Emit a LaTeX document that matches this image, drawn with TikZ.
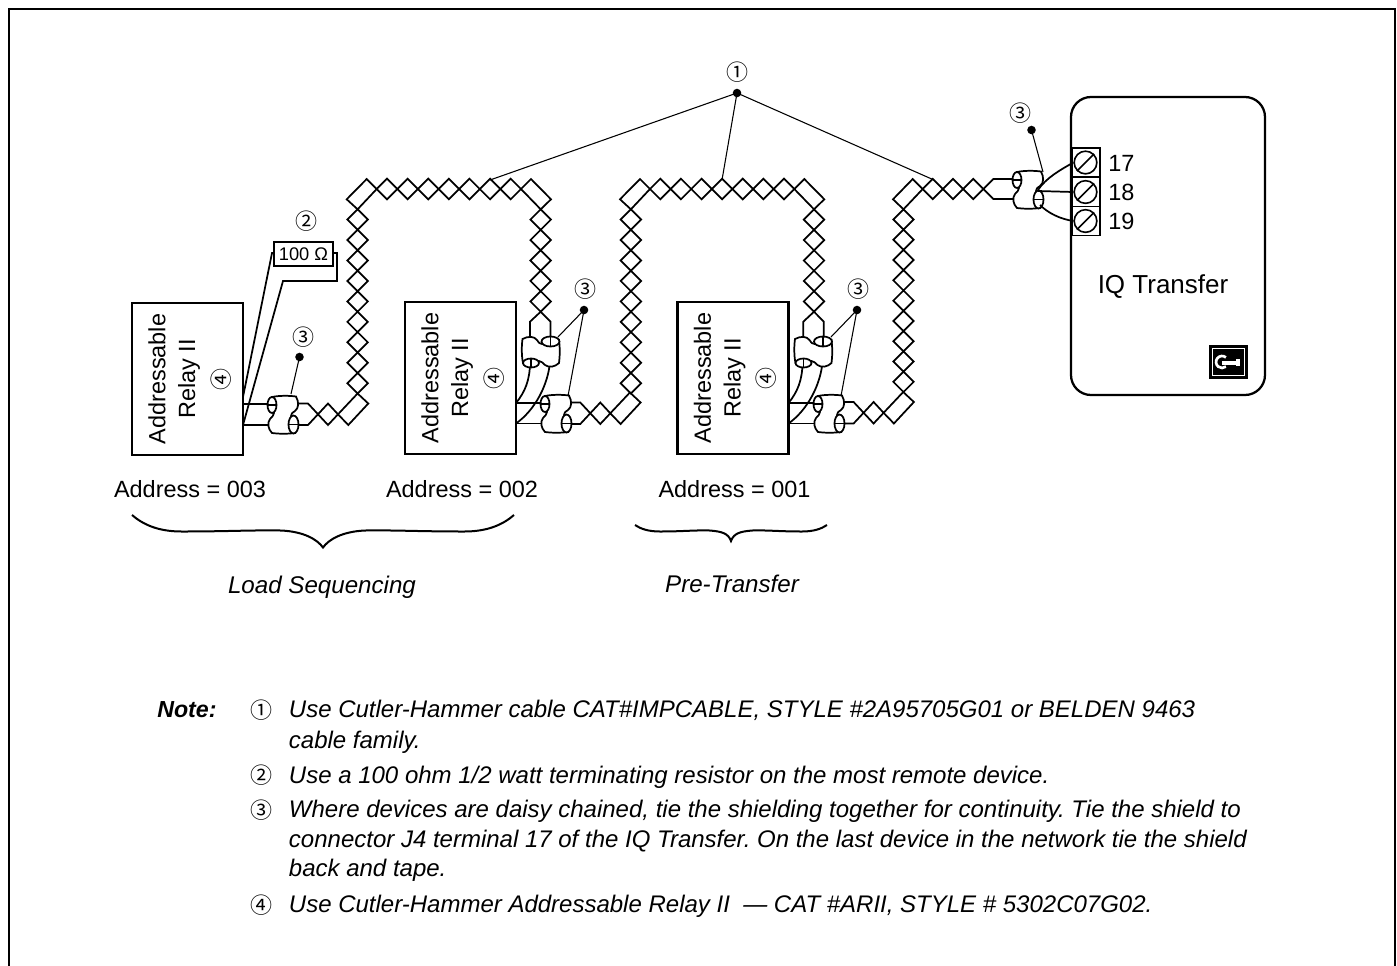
\documentclass[tikz,border=0pt]{standalone}
\usepackage{fontspec}
\setmainfont{Liberation Sans}
\newfontfamily\symfont{Noto Sans CJK SC}
\frenchspacing
\tikzset{
  wire/.style={line width=1.3pt,line join=miter},
  boxline/.style={line width=1.7pt},
  leader/.style={line width=0.8pt},
  thin box/.style={line width=1.2pt},
  lbl/.style={inner sep=0pt,font=\fontsize{17.6}{20}\selectfont},
  ilbl/.style={inner sep=0pt,font=\fontsize{18.1}{20}\selectfont\itshape},
  cir/.style={inner sep=0pt,font=\fontsize{16.5}{18}\selectfont\symfont},
  note/.style={inner sep=0pt,anchor=base west,font=\fontsize{18}{20}\selectfont\itshape},
  notehead/.style={inner sep=0pt,anchor=base west,font=\fontsize{17.4}{20}\selectfont\bfseries\itshape},
  dot/.style={circle,fill=black,inner sep=0pt,minimum size=6.4pt},
}
% chain of n diamonds between two crossings
\newcommand{\dchain}[5]{%
  \foreach \i in {1,...,#5}{%
    \pgfmathsetmacro{\dx}{(#3-#1)/#5}%
    \pgfmathsetmacro{\dy}{(#4-#2)/#5}%
    \pgfmathsetmacro{\ax}{#1+(\i-1)*\dx}%
    \pgfmathsetmacro{\ay}{#2+(\i-1)*\dy}%
    \draw[wire] (\ax,\ay) -- ({\ax+\dx/2+\dy/2},{\ay+\dy/2+\dx/2}) -- ({\ax+\dx},{\ay+\dy}) -- ({\ax+\dx/2-\dy/2},{\ay+\dy/2-\dx/2}) -- cycle;
  }%
}
\newcommand{\cablerun}[1]{%
  \begin{scope}[shift={(#1,0)}]
    \dchain{376.7}{189}{521}{189}{7}
    \dchain{357.6}{209.3}{357.6}{393.5}{9}
    \draw[wire] (357.6,209.3) -- (346.7,199.3) -- (366.7,179) -- (376.7,189) -- cycle;
    \draw[wire] (521,189) -- (531,179) -- (551,199.3) -- (540.7,209.3) -- cycle;
  \end{scope}
}
\newcommand{\lowerrun}[2]{%
  \begin{scope}[shift={(#1,#2)}]
    \draw[wire] (297,403.5) -- (308,403.5) -- (328,425) -- (338,414.3) -- (348.3,425) -- (368.3,403.5) -- (357.6,393.5) -- (338,414.3) -- (328,403.5) -- (308,425) -- (297,425);
  \end{scope}
}
\newcommand{\upperrun}[1]{%
  \begin{scope}[shift={(#1,0)}]
    \dchain{540.7}{209.3}{540.7}{311.7}{5}
    \draw[wire] (530,338) -- (530,321.7) -- (540.7,311.7) -- (550.5,321.7) -- (550.5,338);
  \end{scope}
}
\newcommand{\shieldbody}{%
  \draw[wire,fill=white] (-11,-17) .. controls (-4,-18.5) and (6,-18.5) .. (13,-17.5)
     .. controls (16,-12) and (16,-6) .. (12,-3) .. controls (9,-1) and (8,0) .. (8,2)
     -- (12,19) .. controls (4,20) and (-4,20) .. (-11,19)
     .. controls (-15,15) and (-16,9) .. (-13,5) .. controls (-11,3) and (-9,1) .. (-9,-1)
     -- cycle;
  \draw[wire,fill=white] (-11,-9) circle[x radius=4.5,y radius=8];
  \draw[wire,fill=white] (10.5,10.5) circle[x radius=5,y radius=9];
  \draw[wire] (-15.5,-9) -- (-6.5,-9);
  \draw[wire] (5.5,10.5) -- (15.5,10.5);
}
\newcommand{\hshield}[2]{%
  \begin{scope}[shift={(#1,#2)}]
    \shieldbody
  \end{scope}
}
\newcommand{\vshield}[2]{%
  \begin{scope}[shift={(#1,#2)},x={(0pt,0.75pt)},y={(0.75pt,0pt)}]
    \shieldbody
  \end{scope}
}
\newcommand{\relaybox}[4]{%
  \draw[boxline] (#1,#2) rectangle ({#1+111},{#2+152});
  \node[lbl,rotate=90] at ({#1+25},{#2+76}) {Addressable};
  \node[lbl,rotate=90] at ({#1+57},{#2+76}) {Relay II};
  \node[cir,rotate=90] at ({#1+89},{#2+76}) {\char"2463};
  \node[lbl] at (#4,489) {#3};
}
\newcommand{\bracepath}[5]{% xl xr ytop ymid ytip
  \pgfmathsetmacro{\xm}{(#1+#2)/2}%
  \pgfmathsetmacro{\w}{(#2-#1)/2}%
  \draw[line width=1.5pt] (#1,#3)
    .. controls ({#1+0.06*\w},{#3+0.6*(#4-#3)}) and ({#1+0.14*\w},#4) .. ({#1+0.26*\w},#4)
    .. controls ({#1+0.5*\w},#4) and ({#1+0.62*\w},{#4-1.5}) .. ({#1+0.78*\w},{#4-1})
    .. controls ({\xm-0.1*\w},#4) and ({\xm-0.03*\w},{#5-8}) .. (\xm,#5)
    .. controls ({\xm+0.03*\w},{#5-8}) and ({\xm+0.1*\w},#4) .. ({#2-0.78*\w},{#4-1})
    .. controls ({#2-0.62*\w},{#4-1.5}) and ({#2-0.5*\w},#4) .. ({#2-0.26*\w},#4)
    .. controls ({#2-0.14*\w},#4) and ({#2-0.06*\w},{#3+0.6*(#4-#3)}) .. (#2,#3);
}
\begin{document}
\begin{tikzpicture}[x=0.75pt,y=-0.75pt]
\useasboundingbox (0,0) rectangle (1397,965);
% frame
\draw[line width=1.5pt] (8.5,970) -- (8.5,8.5) -- (1395,8.5) -- (1395,970);

% relays
\relaybox{132}{303}{Address = 003}{190}
\relaybox{405}{302}{Address = 002}{462}
\relaybox{677.5}{302}{Address = 001}{734.5}

% cables
\cablerun{0}
\cablerun{273.3}
\upperrun{0}
\upperrun{273.3}
\dchain{903.5}{209.3}{903.5}{392}{9}
\draw[wire] (903.5,209.3) -- (893,199.3) -- (912.7,179) -- (922.7,189) -- cycle;
\dchain{922.7}{189}{983.3}{189}{3}
\draw[wire] (1015,179) -- (993.3,179) -- (983.3,189) -- (993.3,199) -- (1015,199);
\lowerrun{0}{0}
\lowerrun{272.3}{-1}
\lowerrun{545.6}{-1.5}

% relay 003 wiring
\coordinate (r3a) at (243,404);
\coordinate (r3b) at (243,425);
\draw[wire] (r3a) -- (272,404);
\draw[wire] (r3b) -- (270,425);
\hshield{283}{414}
% terminating resistor
\node[draw,thin box,minimum width=44pt,minimum height=18pt,inner sep=0pt,font=\fontsize{13.7}{16}\selectfont] (res) at (303.5,254) {100 Ω};
\coordinate (res-l) at (272,253);
\coordinate (res-r) at (337,253);
\draw[wire] (243,397) -- (res-l) -- (res.west |- res-l);
\draw[wire] (r3b) -- (283,281) -- (337,281) -- (res-r) -- (res.east |- res-r);

% relay 002 wiring
\coordinate (r2a) at (516,403);
\coordinate (r2b) at (516,423.5);
\draw[wire] (r2a) .. controls (525,392) and (530,380) .. (530,362);
\draw[wire] (r2b) .. controls (535,410) and (548,385) .. (550,362);
\draw[wire] (r2a) -- (548,403);
\draw[wire] (r2b) -- (545,423.5);
\vshield{540}{352}
\hshield{556}{413}

% relay 001 wiring
\coordinate (r1a) at (788.5,403);
\coordinate (r1b) at (788.5,423.5);
\draw[wire] (r1a) .. controls (797.5,392) and (802.5,380) .. (802.5,362);
\draw[wire] (r1b) .. controls (807.5,410) and (820.5,385) .. (822.5,362);
\draw[wire] (r1a) -- (820.5,403);
\draw[wire] (r1b) -- (817.5,423.5);
\vshield{812.5}{352}
\hshield{829}{413}

% IQ Transfer
\draw[boxline,rounded corners=15pt] (1071,97) rectangle (1265,395);
\node[lbl,font=\fontsize{19.5}{22}\selectfont] at (1163,287) {IQ Transfer};
\foreach \n/\y/\l in {a/148/17,b/177.5/18,c/206.5/19}{
  \draw[thin box,fill=white] (1072,\y) rectangle (1100,{\y+29});
  \node[draw,circle,thin box,minimum size=17pt,inner sep=0pt] (t\n) at (1085.5,{\y+14.5}) {};
  \draw[wire] (t\n.south west) -- (t\n.north east);
  \node[lbl,anchor=west] at (1108,{\y+15}) {\l};
}
% last shield
\hshield{1028}{189}
\draw[wire] (1038,190) .. controls (1046,178) and (1060,170) .. (ta.west);
\draw[wire] (1038,191) -- (tb.west);
\draw[wire] (1040,205) .. controls (1048,213) and (1060,219) .. (tc.west);

% key icon
\fill[black] (1209,345) rectangle (1248,379);
\draw[white,line width=1pt] (1212.5,348.5) rectangle (1244.5,375.5);
\draw[white,line width=2pt] (1225.9,357.4) arc[start angle=-50,end angle=-310,radius=6];
\fill[white] (1222,360.5) rectangle (1236,364.5);
\fill[white] (1236,359) rectangle (1240,366);

% leaders
\node[cir] (n1) at (737,72) {\char"2460};
\node[dot] (d1) at (737,93) {};
\coordinate (l1a) at (490,180);
\coordinate (l1b) at (722,180);
\coordinate (l1c) at (934,180);
\draw[leader] (d1.center) -- (l1a);
\draw[leader] (d1.center) -- (l1b);
\draw[leader] (d1.center) -- (l1c);

\node[cir] (n2) at (306,221.5) {\char"2461};

\node[cir] (n3a) at (303,337.5) {\char"2462};
\node[dot] (d3a) at (299.5,357) {};
\coordinate (l3a) at (291,394);
\draw[leader] (d3a.center) -- (l3a);

\node[cir] (n3b) at (585,289.5) {\char"2462};
\node[dot] (d3b) at (584,310) {};
\coordinate (l3b1) at (558,337);
\coordinate (l3b2) at (568,396);
\draw[leader] (d3b.center) -- (l3b1);
\draw[leader] (d3b.center) -- (l3b2);

\node[cir] (n3c) at (858,289.5) {\char"2462};
\node[dot] (d3c) at (857,310) {};
\coordinate (l3c1) at (831,337);
\coordinate (l3c2) at (841,396);
\draw[leader] (d3c.center) -- (l3c1);
\draw[leader] (d3c.center) -- (l3c2);

\node[cir] (n3d) at (1020,113) {\char"2462};
\node[dot] (d3d) at (1031.5,130) {};
\coordinate (l3d) at (1043,172);
\draw[leader] (d3d.center) -- (l3d);

% braces
\bracepath{132}{514}{515}{531.5}{547.5}
\bracepath{635}{827}{525}{531.5}{541}

\node[ilbl] at (322,587) {Load Sequencing};
\node[ilbl] at (732,584) {Pre-Transfer};

% notes
\node[notehead] (nn) at (157,717.5) {Note:};
\node[cir] at (261,710) {\char"2460};
\node[note] at (288.7,717.5) {Use Cutler-Hammer cable CAT\#IMPCABLE, STYLE \#2A95705G01 or BELDEN 9463};
\node[note] at (288.7,748) {cable family.};
\node[cir] at (261,775) {\char"2461};
\node[note] at (288.7,783) {Use a 100 ohm 1/2 watt terminating resistor on the most remote device.};
\node[cir] at (261,810) {\char"2462};
\node[note] at (288.7,817.5) {Where devices are daisy chained, tie the shielding together for continuity. Tie the shield to};
\node[note] at (288.7,847) {connector J4 terminal 17 of the IQ Transfer. On the last device in the network tie the shield};
\node[note] at (288.7,876) {back and tape.};
\node[cir] at (261,905) {\char"2463};
\node[note] at (288.7,912) {Use Cutler-Hammer Addressable Relay II\ \ --- CAT \#ARII, STYLE \# 5302C07G02.};
\end{tikzpicture}
\end{document}
